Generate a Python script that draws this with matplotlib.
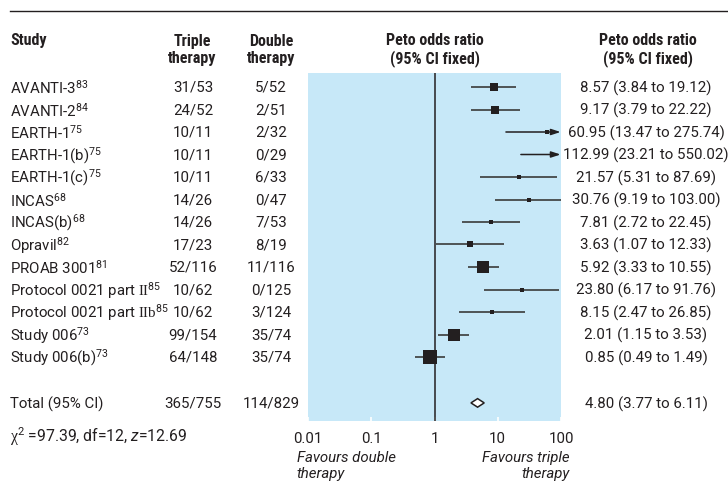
import numpy as np
import matplotlib
matplotlib.use("Agg")
import matplotlib.pyplot as plt
from matplotlib.patches import Polygon
from matplotlib.lines import Line2D
import matplotlib.transforms as mtransforms

BODY = "Roboto"
HEAD = "Roboto Condensed"
plt.rcParams["font.family"] = [BODY, "DejaVu Sans"]
plt.rcParams["mathtext.fontset"] = "custom"
plt.rcParams["mathtext.rm"] = BODY
plt.rcParams["mathtext.it"] = BODY + ":italic"
plt.rcParams["mathtext.sf"] = "Liberation Serif"
plt.rcParams["mathtext.default"] = "regular"

# ---- data ----
studies = [
    r"AVANTI-3$^{83}$", r"AVANTI-2$^{84}$", r"EARTH-1$^{75}$",
    r"EARTH-1(b)$^{75}$", r"EARTH-1(c)$^{75}$", r"INCAS$^{68}$",
    r"INCAS(b)$^{68}$", r"Opravil$^{82}$", r"PROAB 3001$^{81}$",
    r"Protocol 0021 part $\mathsf{II}^{85}$",
    r"Protocol 0021 part $\mathsf{IIb}^{85}$",
    r"Study 006$^{73}$", r"Study 006(b)$^{73}$",
]
triple = ["31/53", "24/52", "10/11", "10/11", "10/11", "14/26", "14/26",
          "17/23", "52/116", "10/62", "10/62", "99/154", "64/148"]
double = ["5/52", "2/51", "2/32", "0/29", "6/33", "0/47", "7/53",
          "8/19", "11/116", "0/125", "3/124", "35/74", "35/74"]
odds = [8.57, 9.17, 60.95, 112.99, 21.57, 30.76, 7.81, 3.63, 5.92, 23.80,
        8.15, 2.01, 0.85]
lower = [3.84, 3.79, 13.47, 23.21, 5.31, 9.19, 2.72, 1.07, 3.33, 6.17,
         2.47, 1.15, 0.49]
upper = [19.12, 22.22, 275.74, 550.02, 87.69, 103.00, 22.45, 12.33, 10.55,
         91.76, 26.85, 3.53, 1.49]
box_size = [6, 6, 3.5, 3.5, 3.5, 3.5, 3.5, 4.5, 8.5, 3.5, 3.5, 9, 9.5]

total_label = "Total (95% CI)"
total_triple = "365/755"
total_double = "114/829"
total_or, total_lo, total_hi = 4.80, 3.77, 6.11

xticks = [0.01, 0.1, 1, 10, 100]
xtick_labels = ["0.01", "0.1", "1", "10", "100"]

# ---- figure ----
W, H = 728, 485
fig = plt.figure(figsize=(W / 100, H / 100), dpi=100)

fs = 10.8
ink = "#231f20"
line_col = "#3a3a3a"

x0, x1 = 308, 561
y_top, y_bot = 74, 422
ax = fig.add_axes([x0 / W, 1 - y_bot / H, (x1 - x0) / W, (y_bot - y_top) / H])
ax.set_xscale("log")
ax.set_xlim(0.01, 100)
row_h = 22.5
ax.set_ylim((y_bot - 88) / row_h, (y_top - 88) / row_h)
ax.set_facecolor("#c7e8f8")
for s in ax.spines.values():
    s.set_visible(False)
ax.set_yticks([])
ax.set_xticks(xticks)
ax.set_xticklabels(xtick_labels, fontsize=fs, color=ink)
ax.minorticks_off()
ax.tick_params(axis="x", direction="in", length=3, width=1.2, color="white",
               pad=7)

ax.axvline(1, color=ink, lw=1.1)

rows = np.arange(len(studies))
total_row = 14.04
xmax = ax.get_xlim()[1]

for i in rows:
    lo, hi, o = lower[i], upper[i], odds[i]
    if hi > 1.5 * xmax:
        # interval runs far off the scale: draw an arrow to the edge
        ax.annotate("", xy=(xmax * 0.985, i), xytext=(lo, i),
                    arrowprops=dict(arrowstyle="-|>,head_length=0.55,head_width=0.18",
                                    color=ink, lw=1.1, shrinkA=0, shrinkB=0))
    else:
        ax.plot([lo, min(hi, xmax)], [i, i], color=line_col, lw=1.2,
                solid_capstyle="butt")
    if o < xmax:
        ax.plot([o], [i], marker="s", ms=box_size[i], color=ink, mew=0,
                zorder=3)

diamond = Polygon([[total_lo, total_row], [total_or, total_row - 0.19],
                   [total_hi, total_row], [total_or, total_row + 0.19]],
                  closed=True, facecolor="white", edgecolor=ink, lw=1.1,
                  zorder=3)
ax.add_patch(diamond)

# ---- text columns (figure x, data y) ----
tr = mtransforms.blended_transform_factory(fig.transFigure, ax.transData)
cx_study, cx_triple, cx_double, cx_or = 10, 193, 271, 646
for i in rows:
    fig.text(cx_study / W, i, studies[i], transform=tr, fontsize=fs,
             color=ink, va="center", ha="left")
    fig.text(cx_triple / W, i, triple[i], transform=tr, fontsize=fs,
             color=ink, va="center", ha="center")
    fig.text(cx_double / W, i, double[i], transform=tr, fontsize=fs,
             color=ink, va="center", ha="center")
    fig.text(cx_or / W, i, f"{odds[i]:.2f} ({lower[i]:.2f} to {upper[i]:.2f})",
             transform=tr, fontsize=fs, color=ink, va="center", ha="center")

fig.text(cx_study / W, total_row, total_label, transform=tr, fontsize=fs,
         color=ink, va="center", ha="left")
fig.text(cx_triple / W, total_row, total_triple, transform=tr, fontsize=fs,
         color=ink, va="center", ha="center")
fig.text(cx_double / W, total_row, total_double, transform=tr, fontsize=fs,
         color=ink, va="center", ha="center")
fig.text(cx_or / W, total_row,
         f"{total_or:.2f} ({total_lo:.2f} to {total_hi:.2f})", transform=tr,
         fontsize=fs, color=ink, va="center", ha="center")

# ---- headers ----
hkw = dict(fontsize=11.5, color=ink, fontweight="bold", va="center",
           linespacing=1.2, family=[HEAD, "DejaVu Sans"])
fig.text(10 / W, 1 - 41 / H, "Study", ha="left", **hkw)
fig.text(192 / W, 1 - 50 / H, "Triple\ntherapy", ha="center", **hkw)
fig.text(271 / W, 1 - 50 / H, "Double\ntherapy", ha="center", **hkw)
fig.text(435 / W, 1 - 50 / H, "Peto odds ratio\n(95% CI fixed)", ha="center",
         **hkw)
fig.text(648 / W, 1 - 50 / H, "Peto odds ratio\n(95% CI fixed)", ha="center",
         **hkw)

# top rule
fig.add_artist(Line2D([10 / W, 1], [1 - 12 / H, 1 - 12 / H], color=ink,
                      lw=1.0, transform=fig.transFigure))

# ---- footer ----
fig.text(10 / W, 1 - 437 / H,
         r"$\mathsf{\chi}^{2}$ =97.39, df=12, $\mathit{z}$=12.69",
         fontsize=11.3, color=ink, ha="left", va="center")
fig.text(297 / W, 1 - 466 / H, "Favours double\ntherapy", fontsize=fs,
         color=ink, style="italic", ha="left", va="center", linespacing=1.1)
fig.text(570 / W, 1 - 466 / H, "Favours triple\ntherapy", fontsize=fs,
         color=ink, style="italic", ha="right", va="center", linespacing=1.1,
         multialignment="right")

fig.savefig("out.png", dpi=100, facecolor="white")
